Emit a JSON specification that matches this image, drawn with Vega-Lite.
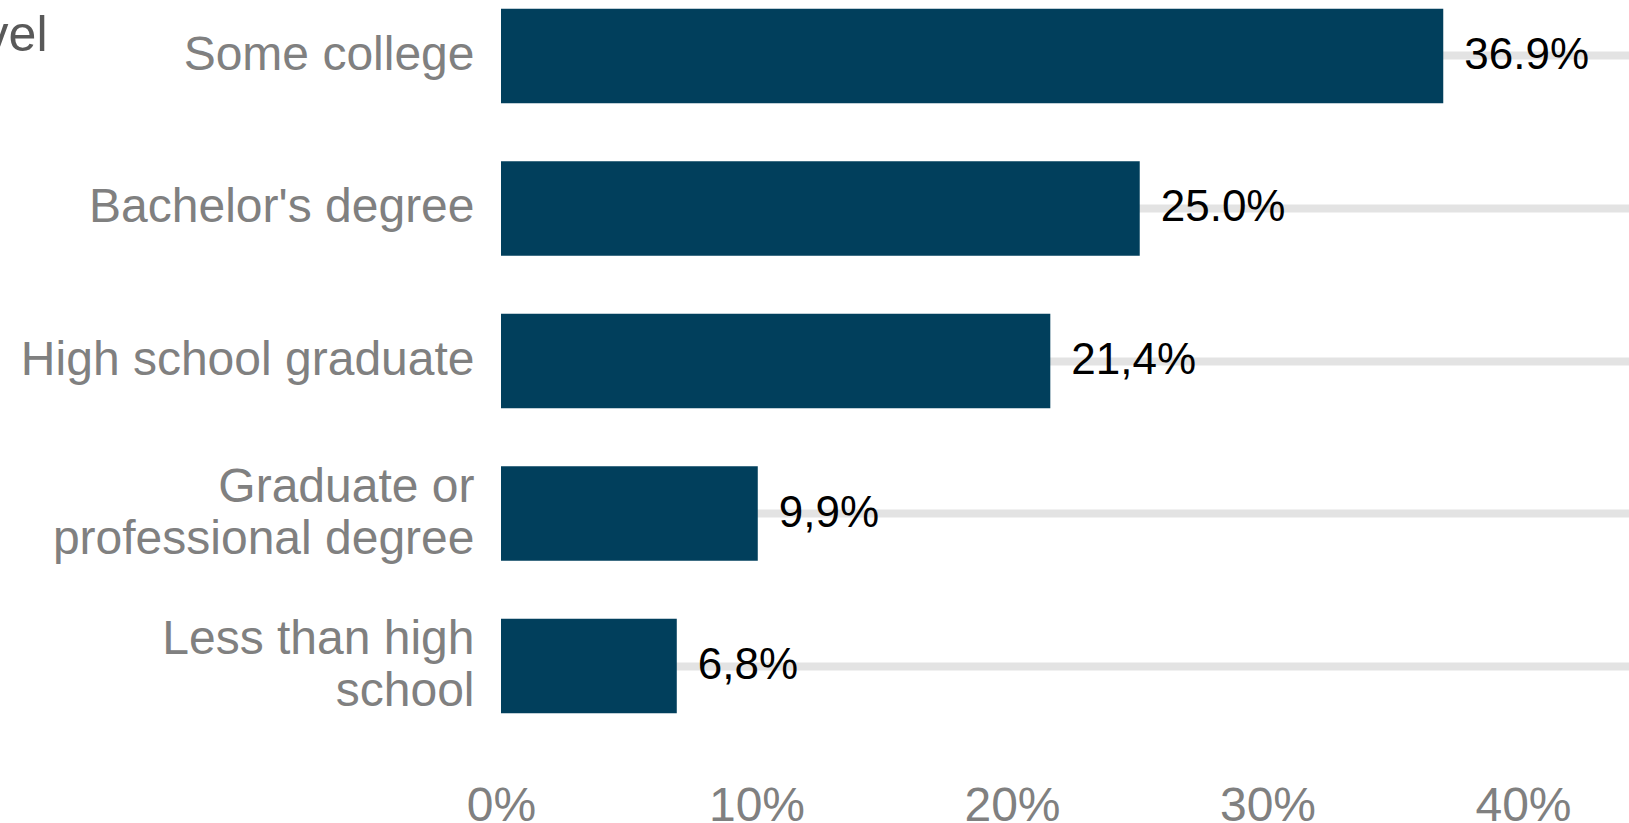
{
  "$schema": "https://vega.github.io/schema/vega-lite/v6.json",
  "width": 1128,
  "height": 722,
  "autosize": {"type": "none"},
  "padding": {"left": 501, "top": 0, "right": 0, "bottom": 101},
  "background": "white",
  "config": {"view": {"stroke": null}, "font": "Liberation Sans"},
  "data": {
    "values": [
      {"level": "Some college", "pct": 36.88, "label": "36.9%"},
      {"level": "Bachelor's degree", "pct": 25.0, "label": "25.0%"},
      {"level": "High school graduate", "pct": 21.5, "label": "21,4%"},
      {"level": "Graduate or professional degree", "pct": 10.05, "label": "9,9%"},
      {"level": "Less than high school", "pct": 6.88, "label": "6,8%"}
    ]
  },
  "encoding": {
    "y": {
      "field": "level",
      "type": "nominal",
      "sort": null,
      "scale": {"paddingInner": 0.38, "paddingOuter": 0.057},
      "axis": {
        "title": "Education level",
        "titleAngle": 0,
        "titleAlign": "right",
        "titleBaseline": "alphabetic",
        "titleX": -454,
        "titleY": 50,
        "titleFontSize": 50,
        "titleFontWeight": "normal",
        "titleColor": "#595959",
        "titleFont": "Liberation Sans",
        "ticks": false,
        "domain": false,
        "grid": true,
        "gridColor": "#e3e3e3",
        "gridWidth": 8,
        "labelFontSize": 48,
        "labelColor": "#808080",
        "labelFont": "Liberation Sans",
        "labelPadding": 27,
        "labelLimit": 0,
        "labelLineHeight": 52,
        "labelOffset": {
          "condition": {"test": "datum.value == 'Graduate or professional degree' || datum.value == 'Less than high school'", "value": -26},
          "value": 0
        },
        "labelExpr": "datum.value == 'Graduate or professional degree' ? ['Graduate or', 'professional degree'] : datum.value == 'Less than high school' ? ['Less than high', 'school'] : datum.value"
      }
    },
    "x": {
      "field": "pct",
      "type": "quantitative",
      "scale": {"domain": [0, 44.15], "nice": false},
      "axis": {
        "title": null,
        "grid": false,
        "ticks": false,
        "domain": false,
        "values": [0, 10, 20, 30, 40],
        "labelExpr": "datum.value + '%'",
        "labelFontSize": 48,
        "labelColor": "#808080",
        "labelFont": "Liberation Sans",
        "labelPadding": 60,
        "labelFlush": false
      }
    }
  },
  "layer": [
    {"mark": {"type": "bar", "color": "#013f5c"}},
    {
      "mark": {"type": "text", "align": "left", "baseline": "middle", "dx": 21, "fontSize": 44, "color": "#000000", "font": "Liberation Sans"},
      "encoding": {"text": {"field": "label"}}
    }
  ]
}
